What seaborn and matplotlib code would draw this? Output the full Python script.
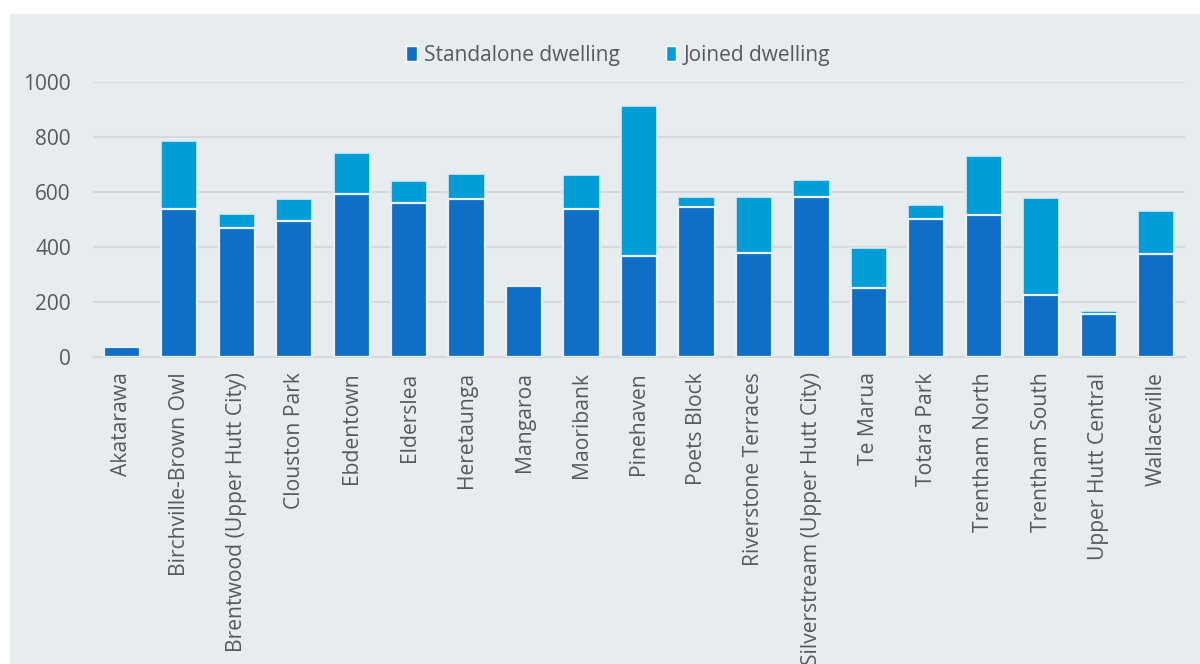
import matplotlib
matplotlib.use("Agg")
import matplotlib.pyplot as plt
import seaborn as sns
import pandas as pd
from matplotlib.patches import Rectangle, Patch

categories = ["Akatarawa", "Birchville-Brown Owl", "Brentwood (Upper Hutt City)", "Clouston Park",
              "Ebdentown", "Elderslea", "Heretaunga", "Mangaroa", "Maoribank", "Pinehaven",
              "Poets Block", "Riverstone Terraces", "Silverstream (Upper Hutt City)", "Te Marua",
              "Totara Park", "Trentham North", "Trentham South", "Upper Hutt Central", "Wallaceville"]
standalone = [35, 539, 469, 496, 595, 561, 576, 258, 538, 366, 547, 379, 583, 252, 503, 518, 226, 157, 374]
joined = [0, 248, 50, 80, 146, 78, 92, 0, 123, 546, 37, 203, 62, 146, 49, 212, 352, 9, 158]

c_stand = "#0F6FC6"
c_join = "#009DD9"
bg = "#E7ECEF"
grid_c = "#D6D9DC"
txt_c = "#595959"

sns.set_theme(style="white")
plt.rcParams["font.family"] = ["Open Sans", "DejaVu Sans"]

df = pd.DataFrame({"area": categories, "standalone": standalone,
                   "total": [s + j for s, j in zip(standalone, joined)]})

fig = plt.figure(figsize=(12, 6.64), dpi=100)
fig.patch.set_facecolor("white")
fig.patches.append(Rectangle((10 / 1200, 0), 1 - 10 / 1200, 1 - 14 / 664,
                             transform=fig.transFigure, facecolor=bg, edgecolor="none", zorder=-10))

ax = fig.add_axes([93 / 1200, 1 - 357 / 664, (1185 - 93) / 1200, (357 - 82.3) / 664])
ax.set_zorder(5)
ax.set_facecolor("none")

sns.barplot(data=df, x="area", y="total", color=c_join, saturation=1, width=0.63,
            edgecolor="#DDEBF5", linewidth=1.2, ax=ax, zorder=3)
sns.barplot(data=df, x="area", y="standalone", color=c_stand, saturation=1, width=0.63,
            edgecolor="#EAF2F8", linewidth=1.6, ax=ax, zorder=4)

ax.set_ylim(0, 1000)
ax.set_yticks([0, 200, 400, 600, 800, 1000])
ax.yaxis.grid(True, color=grid_c, linewidth=1.5, zorder=0)
ax.set_axisbelow(True)
for s in ["top", "right", "left"]:
    ax.spines[s].set_visible(False)
ax.spines["bottom"].set_color(grid_c)
ax.spines["bottom"].set_linewidth(1.5)
ax.set_xlabel("")
ax.set_ylabel("")
ax.tick_params(axis="y", labelsize=15, labelcolor=txt_c, length=0, pad=16)
ax.tick_params(axis="x", labelsize=15.2, labelcolor=txt_c, length=0, pad=11)
plt.setp(ax.get_xticklabels(), rotation=90, va="top", ha="center")
ax.set_xlim(-0.5, len(categories) - 0.5)

handles = [Patch(facecolor=c_stand, label="Standalone dwelling"),
           Patch(facecolor=c_join, label="Joined dwelling")]
fig.legend(handles=handles, loc="center", bbox_to_anchor=(0.515, 1 - 55 / 664), ncol=2,
           frameon=False, fontsize=15, handlelength=0.5, handleheight=0.7,
           handletextpad=0.35, columnspacing=2.2, labelcolor=txt_c)

fig.savefig("out.png", dpi=100, facecolor=fig.get_facecolor())
